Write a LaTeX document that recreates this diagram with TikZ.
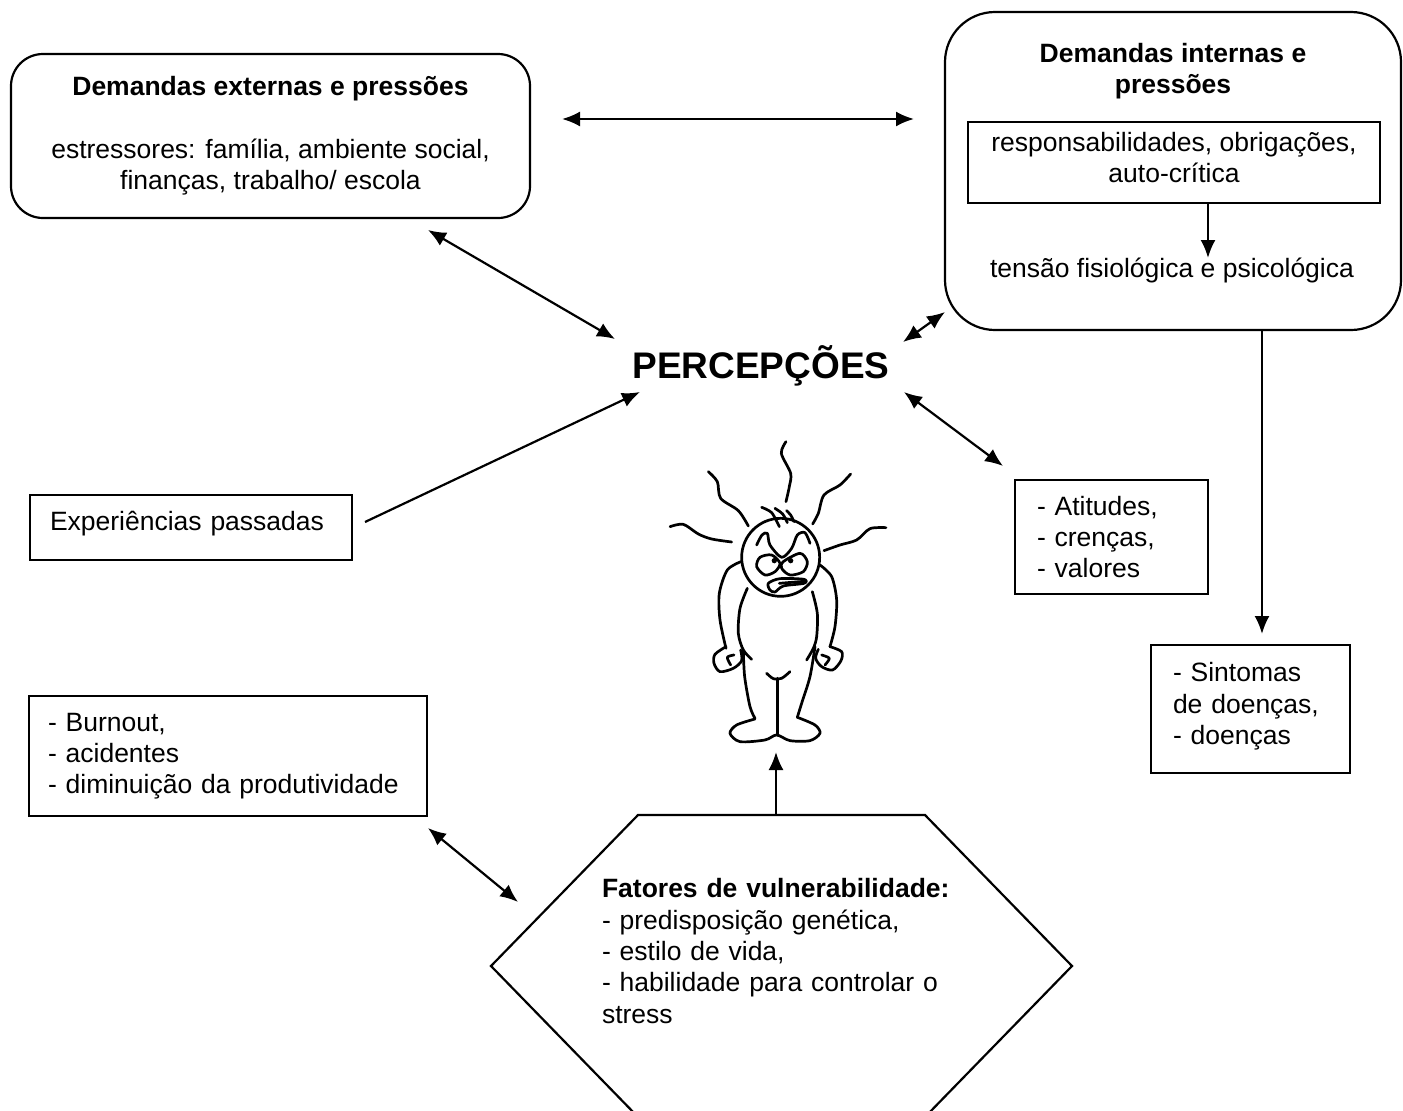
\documentclass[tikz,border=0pt]{standalone}
\usepackage{fontspec}
\setmainfont{Liberation Sans}
\usetikzlibrary{arrows.meta}

\begin{document}
\begin{tikzpicture}[x=1pt,y=-1pt,line width=2.2pt]
		
		\tikzset{txt/.style = {font=\fontsize{26.5}{31.3}\selectfont,inner sep=0pt}}
		\tikzset{box/.style = {txt,shape=rectangle,draw,inner xsep=20pt,align=left}}
		\tikzset{roundbox/.style = {shape=rectangle,draw,inner sep=0pt}}
		\tikzset{edge/.style = {-{Latex[length=18pt,width=15pt]}}}
		\tikzset{twoway/.style = {{Latex[length=18pt,width=15pt]}-{Latex[length=18pt,width=15pt]}}}
		\tikzset{ink/.style = {line width=2.7pt,line cap=round,line join=round}}
		
		\clip (0,0) rectangle (1403,1111);
		
		\node[roundbox,txt,draw,align=center,minimum width=519pt,minimum height=164pt,rounded corners=32pt] (External) at (270.5,136) {\textbf{Demandas externas e pressões}\\[31pt]estressores: família, ambiente social,\\finanças, trabalho/ escola};
		\node[roundbox,minimum width=456pt,minimum height=318pt,rounded corners=50pt] (Internal) at (1173,171) {};
		\node[txt,align=center] (InternalTitle) at (1173,71) {\textbf{Demandas internas e}\\\textbf{pressões}};
		\node[box,txt,draw,align=center,minimum width=412pt,minimum height=81pt] (Duties) at (1174,162.5) {responsabilidades, obrigações,\\auto-crítica\rule[-10pt]{0pt}{0pt}};
		\node[txt] (Tension) at (1172,270) {tensão fisiológica e psicológica};
		
		\node[inner sep=0pt,font=\fontsize{37}{42}\selectfont\bfseries] (Perceptions) at (761,366) {PERCEPÇÕES};
		
		\node[box,text width=282pt,minimum height=65pt] (Past) at (191,527.5) {Experiências passadas\rule[-13pt]{0pt}{0pt}};
		\node[box,inner xsep=22pt,text width=149pt,minimum height=114pt] (Attitudes) at (1111.5,537) {- Atitudes,\\- crenças,\\- valores};
		\node[box,inner xsep=22pt,text width=155pt,minimum height=128pt] (Symptoms) at (1250.5,709) {- Sintomas\\de doenças,\\- doenças\rule[-11pt]{0pt}{0pt}};
		\node[box,inner xsep=19pt,text width=360pt,minimum height=120pt] (Burnout) at (228,756) {- Burnout,\\- acidentes\\- diminuição da produtividade};
		
		\coordinate (HexA) at (638,815);
		\coordinate (HexB) at (925,815);
		\coordinate (HexC) at (1072,966);
		\coordinate (HexD) at (925,1117);
		\coordinate (HexE) at (638,1117);
		\coordinate (HexF) at (491,966);
		\draw[line join=miter] (HexA) -- (HexB) -- (HexC) -- (HexD) -- (HexE) -- (HexF) -- cycle;
		\node[txt,align=left,text width=350pt] (Factors) at (777,951) {\textbf{Fatores de vulnerabilidade:}\\- predisposição genética,\\- estilo de vida,\\- habilidade para controlar o\\stress};
		
		\coordinate (TopL) at (562,119);
		\coordinate (TopR) at (914,119);
		\coordinate (ExtEnd) at (428,230);
		\coordinate (PerExt) at (615,339);
		\coordinate (PerInt) at (903,342);
		\coordinate (IntEnd) at (945,312);
		\coordinate (PastEnd) at (365,522);
		\coordinate (PerPast) at (640,392);
		\coordinate (PerAtt) at (904,392);
		\coordinate (AttEnd) at (1003,466);
		\coordinate (TensionEnd) at (1208,258);
		\coordinate (SymEnd) at (1262,634);
		\coordinate (HexTop) at (776,815);
		\coordinate (FigEnd) at (776,752);
		\coordinate (BurnEnd) at (428,828);
		\coordinate (HexEnd) at (518,902);
		
		\draw[twoway] (TopL) -- (TopR);
		\draw[twoway] (ExtEnd) -- (PerExt);
		\draw[twoway] (PerInt) -- (IntEnd);
		\draw[edge] (PastEnd) -- (PerPast);
		\draw[twoway] (PerAtt) -- (AttEnd);
		\draw[edge] (Duties.south -| TensionEnd) -- (TensionEnd);
		\draw[edge] (Internal.south -| SymEnd) -- (SymEnd);
		\draw[edge] (HexTop) -- (FigEnd);
		\draw[twoway] (BurnEnd) -- (HexEnd);
		
		% the little stressed man
		\begin{scope}[shift={(640,420)},x=0.3333pt,y=-0.3333pt,ink]
			\draw plot[smooth] coordinates {(438,65) (424,100) (452,160) (448,200) (438,245)};
			\draw plot[smooth] coordinates {(205,155) (232,185) (242,235) (295,272) (325,318)};
			\draw plot[smooth] coordinates {(90,320) (130,313) (175,342) (215,357) (275,366)};
			\draw plot[smooth] coordinates {(632,162) (600,195) (552,225) (535,280) (518,312)};
			\draw plot[smooth] coordinates {(738,323) (690,326) (650,360) (600,375) (552,392)};
			\draw (422,412) circle [radius=117];
			\draw plot[smooth] coordinates {(365,262) (395,278) (418,320)};
			\draw plot[smooth] coordinates {(405,265) (428,282) (442,308)};
			\draw plot[smooth] coordinates {(440,272) (452,285) (462,305)};
			\draw plot[smooth] coordinates {(350,375) (366,345) (382,340) (390,375) (425,412) (455,385) (472,345) (495,338) (510,370)};
			\draw plot[smooth cycle] coordinates {(395,405) (360,412) (350,440) (375,465) (405,455) (420,430)};
			\draw plot[smooth cycle] coordinates {(480,400) (502,425) (490,455) (450,465) (425,445) (430,425)};
			\fill (403,422) circle [radius=8];
			\fill (452,422) circle [radius=8];
			\draw plot[smooth cycle] coordinates {(385,490) (420,476) (492,478) (492,490) (430,498) (405,516) (390,510)};
			\draw (418,490) -- (492,484);
			\draw plot[smooth] coordinates {(303,425) (262,450) (238,520) (240,600) (258,685)};
			\draw plot[smooth] coordinates {(258,680) (225,703) (222,730) (240,755) (280,745) (305,722) (302,690)};
			\draw plot[smooth] coordinates {(282,705) (262,712) (272,735)};
			\draw plot[smooth] coordinates {(540,435) (575,470) (590,540) (585,620) (570,680)};
			\draw plot[smooth] coordinates {(570,680) (605,695) (603,722) (578,750) (545,740) (527,715) (535,688)};
			\draw plot[smooth] coordinates {(545,705) (568,715) (555,735)};
			\draw plot[smooth] coordinates {(322,505) (300,565) (295,640) (310,690) (335,718)};
			\draw plot[smooth] coordinates {(310,690) (314,770) (330,860) (345,895)};
			\draw plot[smooth] coordinates {(345,897) (290,915) (270,940) (300,965) (375,960) (410,945) (450,962) (510,962) (540,940) (525,915) (472,892)};
			\draw plot[smooth] coordinates {(517,515) (532,580) (530,650) (520,685) (500,720)};
			\draw plot[smooth] coordinates {(525,680) (510,770) (485,850) (472,892)};
			\draw (412,775) -- (412,945);
			\draw plot[smooth] coordinates {(380,760) (400,776) (425,775) (450,755)};
		\end{scope}
		
\end{tikzpicture}
\end{document}
